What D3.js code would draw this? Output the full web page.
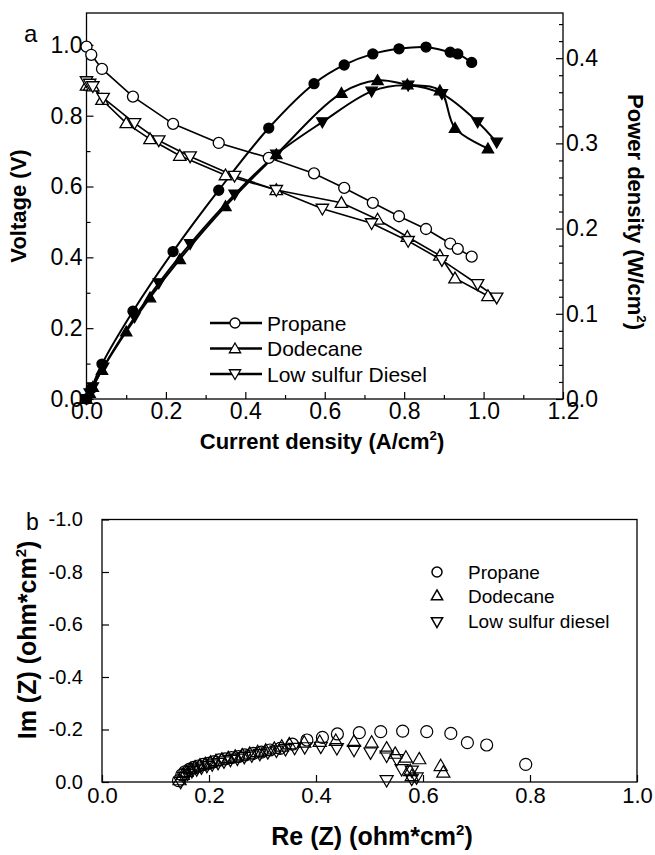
<!DOCTYPE html>
<html><head><meta charset="utf-8">
<script src="https://cdn.jsdelivr.net/npm/d3@7"></script>
<style>body{margin:0;background:#fff}svg{display:block;font-family:"Liberation Sans",Arial,sans-serif}</style>
</head><body>
<svg id="c" width="655" height="855"></svg>
<script>
// ---- Panel a data ----
const propI = [0, 0.012, 0.039, 0.117, 0.218, 0.333, 0.459, 0.573, 0.649, 0.721, 0.787, 0.855, 0.916, 0.935, 0.970];
const propV = [0.995, 0.972, 0.932, 0.854, 0.777, 0.723, 0.681, 0.637, 0.596, 0.554, 0.516, 0.480, 0.439, 0.424, 0.402];
const propP = [0, 0.012, 0.041, 0.103, 0.173, 0.245, 0.318, 0.370, 0.392, 0.405, 0.411, 0.413, 0.407, 0.405, 0.395];
const dodeI = [0, 0.008, 0.016, 0.039, 0.100, 0.160, 0.235, 0.350, 0.478, 0.642, 0.733, 0.808, 0.890, 0.928, 1.011];
const dodeV = [0.885, 0.885, 0.883, 0.845, 0.779, 0.734, 0.687, 0.632, 0.590, 0.554, 0.507, 0.458, 0.405, 0.341, 0.291];
const dodeP = [0, 0.007, 0.014, 0.034, 0.079, 0.119, 0.164, 0.226, 0.287, 0.359, 0.374, 0.369, 0.362, 0.318, 0.294];
const diesI = [0, 0.008, 0.016, 0.042, 0.121, 0.182, 0.261, 0.373, 0.478, 0.594, 0.718, 0.810, 0.895, 0.985, 1.033];
const diesV = [0.897, 0.890, 0.883, 0.850, 0.779, 0.730, 0.685, 0.630, 0.590, 0.537, 0.496, 0.446, 0.392, 0.324, 0.286];
const diesP = [0, 0.007, 0.014, 0.037, 0.096, 0.136, 0.182, 0.240, 0.287, 0.325, 0.361, 0.368, 0.358, 0.325, 0.301];
const legendA = ["Propane", "Dodecane", "Low sulfur Diesel"];
const xTicksA = [0, 0.2, 0.4, 0.6, 0.8, 1.0, 1.2];
const vTicks = [0, 0.2, 0.4, 0.6, 0.8, 1.0];
const pTicks = [0, 0.1, 0.2, 0.3, 0.4];

// ---- Panel b data ----
const propRe = [0.143,0.149,0.155,0.163,0.171,0.180,0.189,0.199,0.208,0.219,0.230,0.242,0.255,0.267,0.283,0.298,0.314,0.333,0.356,0.383,0.412,0.440,0.481,0.521,0.562,0.607,0.652,0.683,0.719,0.792];
const propIm = [-0.005,-0.027,-0.039,-0.048,-0.056,-0.061,-0.067,-0.071,-0.077,-0.084,-0.088,-0.093,-0.097,-0.103,-0.109,-0.114,-0.122,-0.128,-0.144,-0.160,-0.170,-0.183,-0.188,-0.192,-0.194,-0.192,-0.185,-0.150,-0.141,-0.067];
const dodeRe = [0.145,0.151,0.158,0.166,0.174,0.183,0.193,0.203,0.213,0.224,0.236,0.249,0.262,0.276,0.291,0.306,0.322,0.336,0.350,0.378,0.407,0.437,0.471,0.504,0.532,0.548,0.568,0.593,0.576,0.579,0.633,0.638];
const dodeIm = [-0.004,-0.024,-0.036,-0.046,-0.053,-0.060,-0.066,-0.071,-0.077,-0.083,-0.088,-0.094,-0.099,-0.105,-0.111,-0.117,-0.124,-0.132,-0.141,-0.147,-0.150,-0.154,-0.150,-0.147,-0.125,-0.105,-0.090,-0.084,-0.039,-0.020,-0.058,-0.033];
const diesRe = [0.147,0.153,0.160,0.168,0.177,0.186,0.196,0.206,0.217,0.228,0.240,0.253,0.266,0.280,0.295,0.310,0.326,0.343,0.360,0.379,0.409,0.439,0.471,0.502,0.532,0.551,0.560,0.579,0.588,0.532,0.579];
const diesIm = [-0.003,-0.022,-0.034,-0.044,-0.051,-0.058,-0.064,-0.070,-0.075,-0.081,-0.087,-0.092,-0.098,-0.104,-0.110,-0.116,-0.122,-0.128,-0.133,-0.135,-0.137,-0.132,-0.125,-0.115,-0.103,-0.090,-0.052,-0.046,-0.020,-0.010,-0.015];
const legendB = ["Propane", "Dodecane", "Low sulfur diesel"];
const xTicksB = [0, 0.2, 0.4, 0.6, 0.8, 1.0];
const yTicksB = [0, -0.2, -0.4, -0.6, -0.8, -1.0];

const svg = d3.select("#c");
const fmt = d => d3.format(".1f")(d).replace("\u2212", "-");
const FONT = '"Liberation Sans",Arial,sans-serif';

function marker(g, type, x, y, filled, sz) {
  if (type === "circle") {
    g.append("circle").attr("cx", x).attr("cy", y).attr("r", sz)
      .attr("fill", filled ? "#000" : "#fff").attr("stroke", "#000").attr("stroke-width", 1.3);
  } else {
    const area = sz * sz * 2.2;
    g.append("path").attr("d", d3.symbol().type(d3.symbolTriangle).size(area)())
      .attr("transform", `translate(${x},${y + (type === "down" ? -1 : 1)})` + (type === "down" ? " rotate(180)" : ""))
      .attr("fill", filled ? "#000" : "#fff").attr("stroke", "#000").attr("stroke-width", 1.3);
  }
}
function styleAxis(sel, fs) {
  sel.select(".domain").remove();
  sel.selectAll("line").attr("stroke", "#000").attr("stroke-width", 1.2);
  sel.selectAll("text").attr("font-size", fs).attr("fill", "#000").attr("font-family", FONT);
}
function titleSup(g, transform, main, fs) {
  const t = g.append("text").attr("transform", transform).attr("text-anchor", "middle")
    .attr("font-size", fs).attr("font-weight", "bold");
  t.append("tspan").text(main);
  t.append("tspan").attr("font-size", fs * 0.6).attr("dy", -fs * 0.42).text("2");
  t.append("tspan").attr("dy", fs * 0.42).text(")");
  return t;
}

// ================= Panel a =================
const xA = d3.scaleLinear().domain([0, 1.2]).range([86.5, 563]);
const yV = d3.scaleLinear().domain([0, 1.09]).range([399, 13]);
const yP = d3.scaleLinear().domain([0, 0.453]).range([399, 13]);

const gA = svg.append("g");
gA.append("rect").attr("x", xA(0)).attr("y", yV(1.09)).attr("width", xA(1.2) - xA(0)).attr("height", yV(0) - yV(1.09))
  .attr("fill", "none").attr("stroke", "#000").attr("stroke-width", 1.3);

gA.append("g").attr("transform", `translate(0,${yV(0)})`)
  .call(d3.axisBottom(xA).tickValues(d3.range(0.1, 1.2, 0.2)).tickSize(-4).tickFormat(""))
  .call(s => styleAxis(s, 20));
gA.append("g").attr("transform", `translate(0,${yV(0)})`)
  .call(d3.axisBottom(xA).tickValues(xTicksA).tickSize(-7).tickPadding(4).tickFormat(fmt))
  .call(s => styleAxis(s, 23));
gA.append("g").attr("transform", `translate(${xA(0)},0)`)
  .call(d3.axisLeft(yV).tickValues(d3.range(0.1, 1.09, 0.2)).tickSize(-4).tickFormat(""))
  .call(s => styleAxis(s, 20));
gA.append("g").attr("transform", `translate(${xA(0)},0)`)
  .call(d3.axisLeft(yV).tickValues(vTicks).tickSize(-7).tickPadding(4).tickFormat(fmt))
  .call(s => styleAxis(s, 23));
gA.append("g").attr("transform", `translate(${xA(1.2)},0)`)
  .call(d3.axisRight(yP).tickValues(d3.range(0.02, 0.45, 0.02).filter(v => Math.abs(v * 10 - Math.round(v * 10)) > 0.01)).tickSize(-4).tickFormat(""))
  .call(s => styleAxis(s, 20));
gA.append("g").attr("transform", `translate(${xA(1.2)},0)`)
  .call(d3.axisRight(yP).tickValues(pTicks).tickSize(-7).tickPadding(3).tickFormat(fmt))
  .call(s => styleAxis(s, 23));

gA.append("text").attr("x", 24).attr("y", 42).attr("font-size", 24).text("a");
gA.append("text").attr("transform", "translate(26,206) rotate(-90)").attr("text-anchor", "middle")
  .attr("font-size", 22).attr("font-weight", "bold").text("Voltage (V)");
titleSup(gA, "translate(322,449)", "Current density (A/cm", 22);
titleSup(gA, "translate(628,212) rotate(90)", "Power density (W/cm", 22);

const seriesA = [
  {I: propI, V: propV, P: propP, type: "circle"},
  {I: dodeI, V: dodeV, P: dodeP, type: "up"},
  {I: diesI, V: diesV, P: diesP, type: "down"}
];
const lineV = d3.line().curve(d3.curveLinear);
const lineP = d3.line().curve(d3.curveCatmullRom.alpha(0.5));
seriesA.forEach(s => {
  gA.append("path").attr("d", lineV(s.I.map((d, i) => [xA(d), yV(s.V[i])])))
    .attr("fill", "none").attr("stroke", "#000").attr("stroke-width", 1.6);
  gA.append("path").attr("d", lineP(s.I.map((d, i) => [xA(d), yP(s.P[i])])))
    .attr("fill", "none").attr("stroke", "#000").attr("stroke-width", 2);
});
seriesA.forEach(s => {
  s.I.forEach((d, i) => marker(gA, s.type, xA(d), yV(s.V[i]), false, 5.5));
  s.I.forEach((d, i) => marker(gA, s.type, xA(d), yP(s.P[i]), true, 5));
});
legendA.forEach((name, i) => {
  const y = 323 + i * 25.5;
  gA.append("line").attr("x1", 210).attr("x2", 262).attr("y1", y).attr("y2", y).attr("stroke", "#000").attr("stroke-width", 2.5);
  marker(gA, seriesA[i].type, 235, y, false, 5);
  gA.append("text").attr("x", 267).attr("y", y + 7.5).attr("font-size", 21).text(name);
});

// ================= Panel b =================
const xB = d3.scaleLinear().domain([0, 1.0]).range([102, 637]);
const yB = d3.scaleLinear().domain([0, -1.0]).range([782, 519.5]);
const gB = svg.append("g");
gB.append("rect").attr("x", xB(0)).attr("y", yB(-1)).attr("width", xB(1) - xB(0)).attr("height", yB(0) - yB(-1))
  .attr("fill", "none").attr("stroke", "#000").attr("stroke-width", 1.3);
gB.append("g").attr("transform", `translate(0,${yB(0)})`)
  .call(d3.axisBottom(xB).tickValues(xTicksB).tickSize(-7).tickPadding(5).tickFormat(fmt))
  .call(s => styleAxis(s, 22));
gB.append("g").attr("transform", `translate(${xB(0)},0)`)
  .call(d3.axisLeft(yB).tickValues(yTicksB).tickSize(-7).tickPadding(19).tickFormat(fmt))
  .call(s => styleAxis(s, 20));
gB.append("text").attr("x", 26).attr("y", 530).attr("font-size", 23).text("b");
titleSup(gB, "translate(36,640) rotate(-90)", "Im (Z) (ohm*cm", 25);
titleSup(gB, "translate(372,845)", "Re (Z) (ohm*cm", 25);

const seriesB = [
  {re: propRe, im: propIm, type: "circle"},
  {re: dodeRe, im: dodeIm, type: "up"},
  {re: diesRe, im: diesIm, type: "down"}
];
seriesB.forEach(s => {
  s.re.forEach((d, i) => {
    if (s.type === "circle") {
      gB.append("circle").attr("cx", xB(d)).attr("cy", yB(s.im[i])).attr("r", 6)
        .attr("fill", "none").attr("stroke", "#000").attr("stroke-width", 1.2);
    } else {
      gB.append("path").attr("d", d3.symbol().type(d3.symbolTriangle).size(75)())
        .attr("transform", `translate(${xB(d)},${yB(s.im[i])})` + (s.type === "down" ? " rotate(180)" : ""))
        .attr("fill", "none").attr("stroke", "#000").attr("stroke-width", 1.2);
    }
  });
});
legendB.forEach((name, i) => {
  const y = 572 + i * 24.5;
  if (i === 0) gB.append("circle").attr("cx", 437).attr("cy", y).attr("r", 5).attr("fill", "none").attr("stroke", "#000").attr("stroke-width", 1.5);
  else gB.append("path").attr("d", d3.symbol().type(d3.symbolTriangle).size(55)())
    .attr("transform", `translate(437,${y})` + (i === 2 ? " rotate(180)" : ""))
    .attr("fill", "none").attr("stroke", "#000").attr("stroke-width", 1.5);
  gB.append("text").attr("x", 468).attr("y", y + 6.5).attr("font-size", 19).text(name);
});
</script>
</body></html>
